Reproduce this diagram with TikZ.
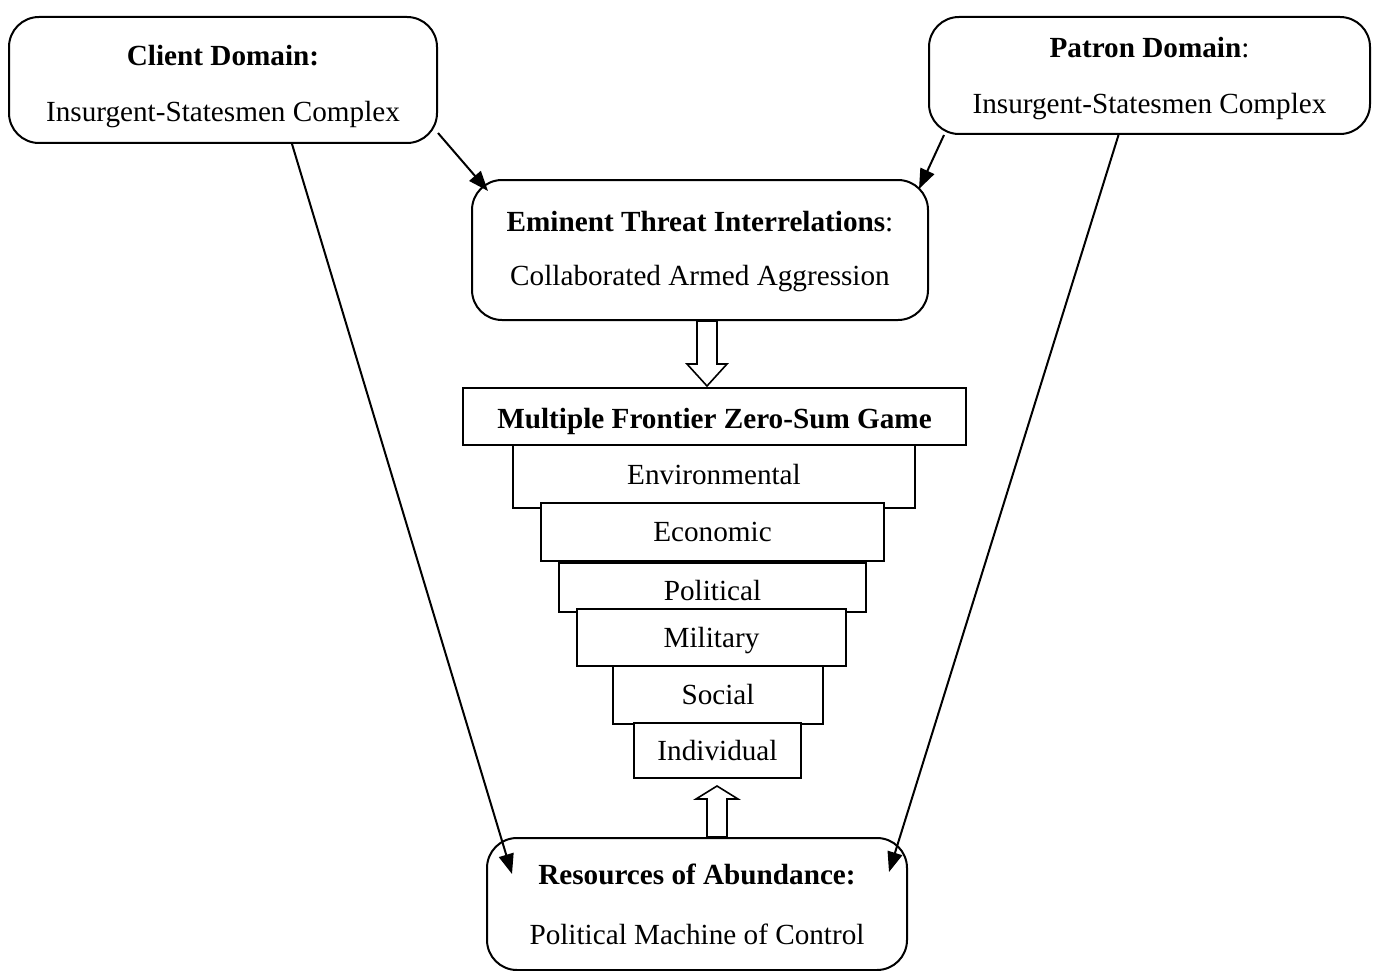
\documentclass[tikz,border=0pt]{standalone}
\usepackage{fontspec}
\setmainfont{Liberation Serif}
\usetikzlibrary{calc,arrows.meta}

\tikzstyle{bigfig}=[x=1pt,y=-1pt,line width=2pt,font=\fontsize{29.2}{35}\selectfont]
\tikzstyle{roundbox}=[draw,fill=white,rounded corners=30pt,align=center,inner sep=0pt]
\tikzstyle{tier}=[draw,fill=white,inner sep=0pt]
\tikzstyle{link}=[-{Triangle[length=20pt,width=15pt]}]

\begin{document}
\begin{tikzpicture}[style=bigfig]
\useasboundingbox (0,0) rectangle (1373,971);

% the four rounded boxes
\node[roundbox,minimum width=428pt,minimum height=126pt] (client) at (223,80)
  {\rule{0pt}{34pt}\textbf{Client Domain:}\\[21pt]Insurgent-Statesmen Complex};
\node[roundbox,minimum width=441pt,minimum height=117pt] (patron) at (1149.5,75.5)
  {\rule{0pt}{26pt}\textbf{Patron Domain}:\\[21pt]Insurgent-Statesmen Complex};
\node[roundbox,minimum width=456pt,minimum height=140pt] (emi) at (700,250)
  {\rule{0pt}{24pt}\textbf{Eminent Threat Interrelations}:\\[19pt]Collaborated Armed Aggression};
\node[roundbox,minimum width=420pt,minimum height=132pt] (res) at (697,904)
  {\textbf{Resources of Abundance:}\\[25pt]Political Machine of Control};

% the stack of frontiers
\node[tier,minimum width=503pt,minimum height=57pt] (mfz) at (714.5,416.5) {\rule{0pt}{30pt}\textbf{Multiple Frontier Zero-Sum Game}};
\node[tier,minimum width=402pt,minimum height=63pt] (env) at (714,476.5) {\rule[-4pt]{0pt}{4pt}Environmental};
\node[tier,minimum width=343pt,minimum height=58pt] (eco) at (712.5,532) {Economic};
\node[tier,minimum width=307pt,minimum height=49pt] (pol) at (712.5,587.5) {\rule{0pt}{26pt}Political};
\node[tier,minimum width=269pt,minimum height=57pt] (mil) at (711.5,637.5) {\rule{0pt}{26pt}Military};
\node[tier,minimum width=210pt,minimum height=58pt] (soc) at (718,695) {Social};
\node[tier,minimum width=167pt,minimum height=55pt] (ind) at (717.5,750.5) {Individual};

% hollow arrows
\coordinate (dtop) at ($(emi.south)+(7,0)$);
\coordinate (dtip) at ($(dtop |- mfz.north)+(0,-1)$);
\draw[fill=white,line width=1.6pt] ($(dtop)+(-10,0)$) -- ($(dtop)+(10,0)$) -- ($(dtip)+(10,-22)$)
  -- ($(dtip)+(20,-22)$) -- (dtip) -- ($(dtip)+(-20,-22)$) -- ($(dtip)+(-10,-22)$) -- cycle;

\coordinate (ubot) at ($(res.north)+(20,0)$);
\coordinate (utip) at ($(ubot |- ind.south)+(0,7)$);
\draw[fill=white,line width=1.6pt] ($(ubot)+(-10,0)$) -- ($(ubot)+(10,0)$) -- ($(utip)+(10,13)$)
  -- ($(utip)+(21,13)$) -- (utip) -- ($(utip)+(-21,13)$) -- ($(utip)+(-10,13)$) -- cycle;

% connectors
\draw[link] ($(client.south east)+(0,-11)$) -- ($(emi.north west)+(17,12)$);
\draw[link] ($(patron.south west)+(16,0)$) -- ($(emi.north east)+(-10,10)$);
\draw[link] ($(client.south)+(69,0)$) -- ($(res.north west)+(26,37)$);
\draw[link] ($(patron.south)+(-31,0)$) -- ($(res.north east)+(-19,35)$);
\end{tikzpicture}
\end{document}
